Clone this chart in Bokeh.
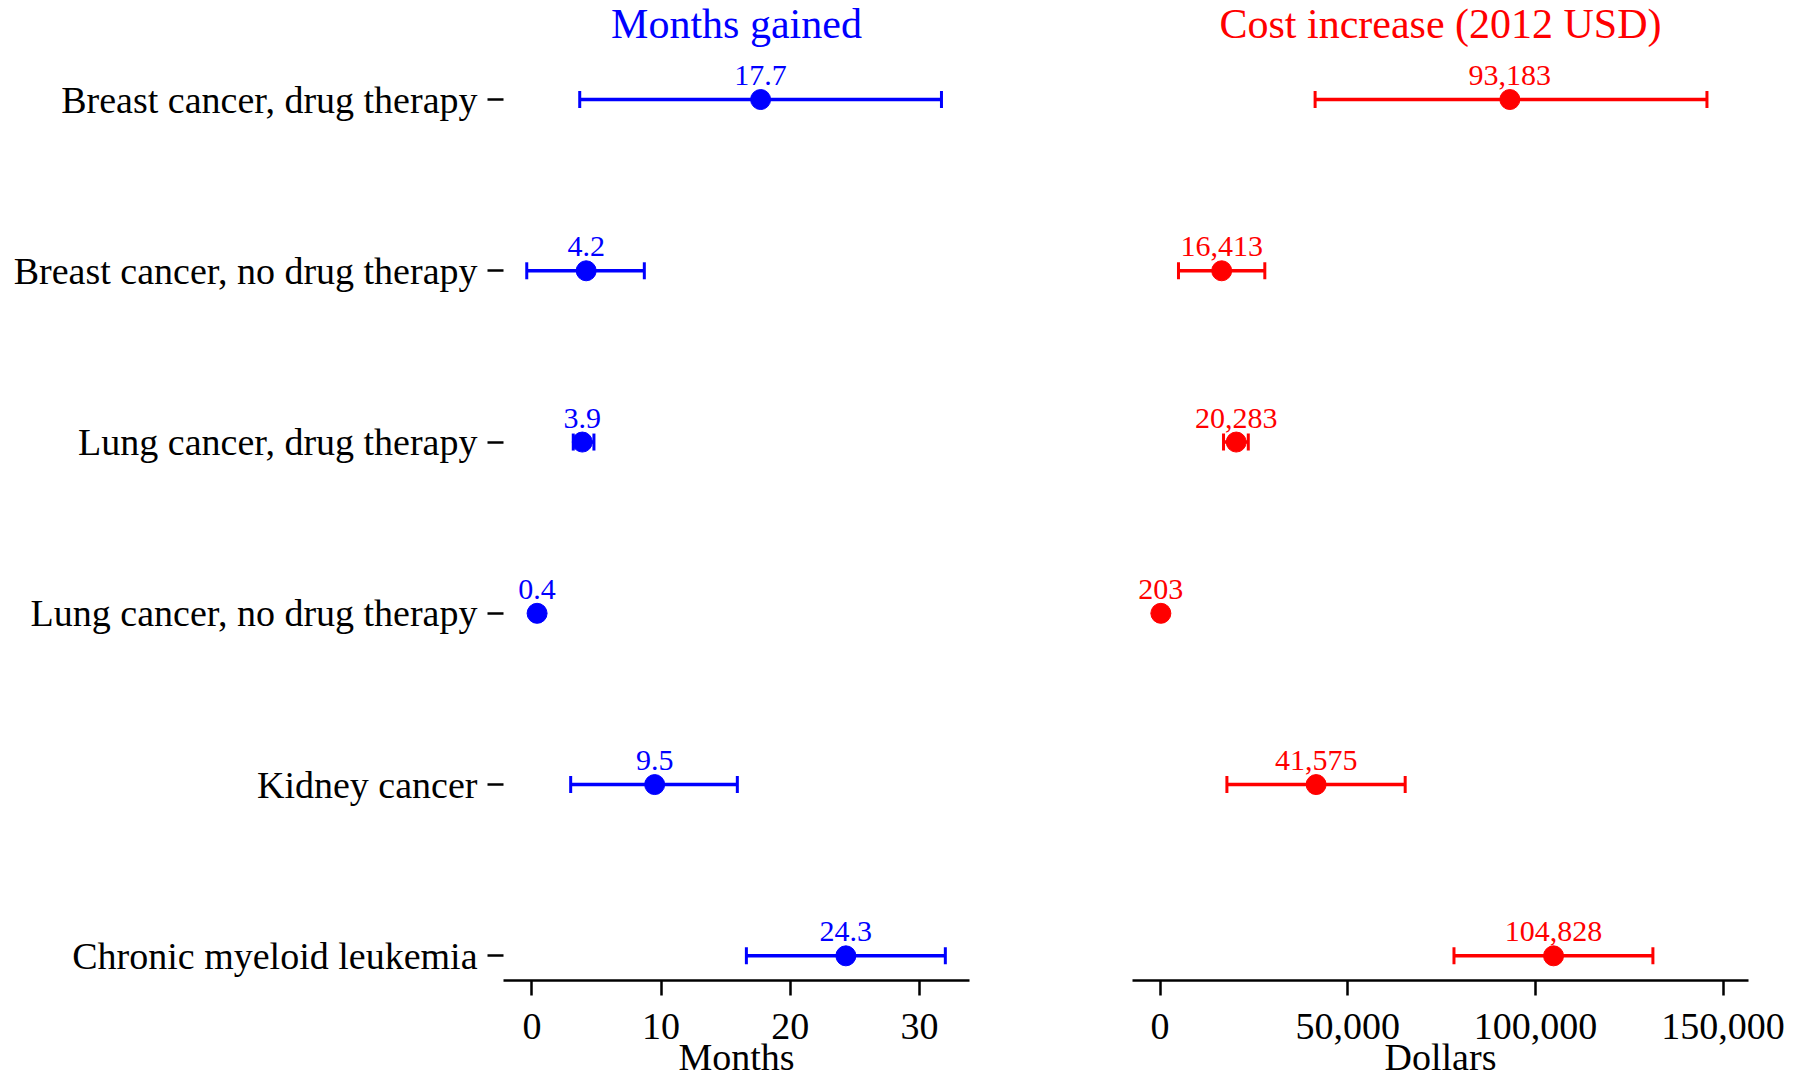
from bokeh.plotting import figure
from bokeh.models import (ColumnDataSource, Range1d, FixedTicker, Whisker, TeeHead,
                          NumeralTickFormatter, Title)
from bokeh.layouts import row
from bokeh.embed import file_html
from bokeh.resources import INLINE
from bokeh.core.properties import value

categories = ["Breast cancer, drug therapy", "Breast cancer, no drug therapy",
              "Lung cancer, drug therapy", "Lung cancer, no drug therapy",
              "Kidney cancer", "Chronic myeloid leukemia"]
months = [17.7, 4.2, 3.9, 0.4, 9.5, 24.3]
months_lo = [3.7, -0.4, 3.2, 0.2, 3.0, 16.6]
months_hi = [31.7, 8.7, 4.8, 0.6, 15.9, 32.0]
cost = [93183, 16413, 20283, 203, 41575, 104828]
cost_lo = [41300, 4900, 16900, 0, 17800, 78300]
cost_hi = [145700, 27900, 23500, 400, 65300, 131300]
months_ticks = [0, 10, 20, 30]
cost_ticks = [0, 50000, 100000, 150000]

FONT = "Liberation Serif"
BLUE = "#0000FF"
RED = "#FF0000"

n = len(categories)
ypos = [n - 1 - i for i in range(n)]

Y_START, Y_END = -0.144, (n - 1) + 0.2979
FRAME_H = 932
TOP = 47
BOTTOM = 90


def style(p, title_text, color, xlabel):
    p.outline_line_color = None
    p.xgrid.grid_line_color = None
    p.ygrid.grid_line_color = None
    t = Title(text=title_text, align="center", text_font=FONT, text_font_size="42px",
              text_font_style="normal", text_color=color, standoff=0,
              vertical_align="top")
    p.add_layout(t, "above")
    ax = p.xaxis[0]
    ax.axis_label = xlabel
    ax.axis_label_text_font = FONT
    ax.axis_label_text_font_size = "38px"
    ax.axis_label_text_font_style = "normal"
    ax.axis_label_text_color = "black"
    ax.axis_label_standoff = -6
    ax.major_label_text_font = FONT
    ax.major_label_text_font_size = "38px"
    ax.major_label_text_color = "black"
    ax.major_label_standoff = 18
    ax.axis_line_width = 2.5
    ax.axis_line_color = "black"
    ax.major_tick_line_width = 2.5
    ax.major_tick_line_color = "black"
    ax.major_tick_out = 15
    ax.major_tick_in = 0
    ax.minor_tick_line_color = None


def panel(vals, lo, hi, color, labels, xr, ticks, title_text, xlabel,
          border_left, frame_w, border_right):
    p = figure(frame_width=frame_w, frame_height=FRAME_H, output_backend="svg",
               toolbar_location=None, x_range=xr, y_range=Range1d(Y_START, Y_END),
               min_border_left=border_left, min_border_right=border_right,
               min_border_top=TOP, min_border_bottom=BOTTOM)
    src = ColumnDataSource(dict(y=ypos, v=vals, lo=lo, hi=hi, lab=labels))
    w = Whisker(source=src, base="y", lower="lo", upper="hi", dimension="width",
                line_color=color, line_width=3.5,
                lower_head=TeeHead(size=17, line_color=color, line_width=3),
                upper_head=TeeHead(size=17, line_color=color, line_width=3))
    p.add_layout(w)
    p.scatter(x="v", y="y", source=src, size=20, fill_color=color, line_color=color)
    p.text(x="v", y="y", text="lab", source=src, text_align="center",
           text_baseline="alphabetic", y_offset=-24, text_color=color,
           text_font=value(FONT), text_font_size="30px")
    p.xaxis.ticker = FixedTicker(ticks=ticks)
    style(p, title_text, color, xlabel)
    return p


left = panel(months, months_lo, months_hi, BLUE, [f"{v:.1f}" for v in months],
             Range1d(-2.2, 33.87), months_ticks, "Months gained", "Months",
             503, 466, 30)
ya = left.yaxis[0]
ya.ticker = FixedTicker(ticks=ypos)
ya.major_label_overrides = {y: c for y, c in zip(ypos, categories)}
ya.axis_line_color = None
ya.major_tick_line_width = 2.5
ya.major_tick_line_color = "black"
ya.major_tick_out = 16
ya.major_tick_in = 0
ya.minor_tick_line_color = None
ya.major_label_standoff = 10
ya.major_label_text_font = FONT
ya.major_label_text_font_size = "38px"
ya.major_label_text_color = "black"

right = panel(cost, cost_lo, cost_hi, RED, [f"{v:,.0f}" for v in cost],
              Range1d(-7352, 156770), cost_ticks, "Cost increase (2012 USD)", "Dollars",
              133, 616, 40)
right.yaxis.visible = False
right.xaxis.formatter = NumeralTickFormatter(format="0,0")

layout = row(left, right)
open("out.html", "w").write(file_html(layout, INLINE))
